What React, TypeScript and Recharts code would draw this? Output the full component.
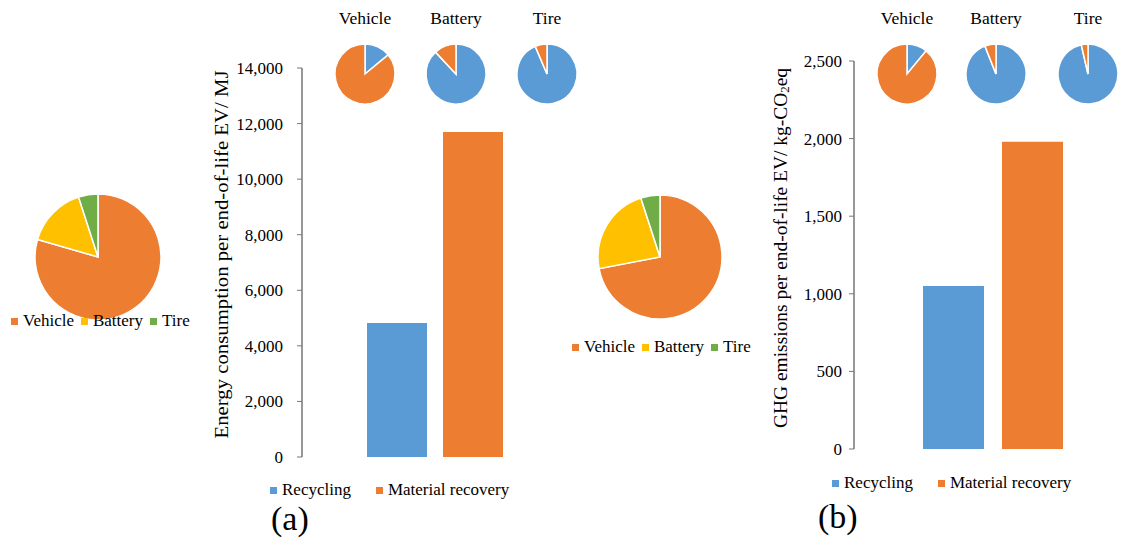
import { Bar, BarChart, Cell, Legend, Pie, PieChart, XAxis, YAxis } from "recharts";

const SERIF = '"Liberation Serif", "Times New Roman", serif';
const INK = "#000000";
const AXIS = "#767676";

const BLUE = "#5B9BD5";
const ORANGE = "#ED7D31";
const YELLOW = "#FFC000";
const GREEN = "#70AD47";

// categories
const parts = ["Vehicle", "Battery", "Tire"];
const partColors = [ORANGE, YELLOW, GREEN];
const methods = ["Recycling", "Material recovery"];
const methodColors = [BLUE, ORANGE];

// (a) energy consumption, MJ per end-of-life EV
const energyTotals = [4820, 11700];
const energyPartShare = [79.5, 15.5, 5];
const energyRecycling = [14, 88, 93.6];
const energyRecovery = [86, 12, 6.4];
const energyTicks = [0, 2000, 4000, 6000, 8000, 10000, 12000, 14000];

// (b) GHG emissions, kg-CO2eq per end-of-life EV
const ghgTotals = [1050, 1980];
const ghgPartShare = [72, 23, 5];
const ghgRecycling = [11, 94, 96.4];
const ghgRecovery = [89, 6, 3.6];
const ghgTicks = [0, 500, 1000, 1500, 2000, 2500];

const fmt = (v: number) => v.toLocaleString("en-US");

function Box({ x, y, w, h, children }: any) {
  return (
    <div style={{ position: "absolute", left: x, top: y, width: w, height: h }}>
      {children}
    </div>
  );
}

// legend that keeps the order of the given names
function SwatchLegend({ payload, order, gap, textGap }: any) {
  const items = [...(payload || [])].sort(
    (a: any, b: any) => order.indexOf(a.value) - order.indexOf(b.value)
  );
  return (
    <div
      style={{
        display: "flex",
        alignItems: "center",
        height: 20,
        fontFamily: SERIF,
        fontSize: 17,
        color: INK,
        whiteSpace: "nowrap",
      }}
    >
      {items.map((p: any, i: number) => (
        <span
          key={i}
          style={{ display: "inline-flex", alignItems: "center", marginRight: gap }}
        >
          <span
            style={{
              display: "inline-block",
              width: 7,
              height: 7,
              background: p.color,
              marginRight: textGap,
            }}
          />
          {p.value}
        </span>
      ))}
    </div>
  );
}

function BigPie({ x, y, w, h, cx, cy, r, shares, legendLeft, legendTop }: any) {
  const data = parts.map((name, i) => ({ name, value: shares[i], fill: partColors[i] }));
  return (
    <Box x={x} y={y} w={w} h={h}>
      <PieChart width={w} height={h} margin={{ top: 0, right: 0, bottom: 0, left: 0 }}>
        <Pie
          data={data}
          dataKey="value"
          nameKey="name"
          cx={cx}
          cy={cy}
          outerRadius={r}
          startAngle={90}
          endAngle={-270}
          stroke="#ffffff"
          strokeWidth={1.5}
          isAnimationActive={false}
        >
          {data.map((d, i) => (
            <Cell key={i} fill={d.fill} />
          ))}
        </Pie>
        <Legend
          layout="horizontal"
          verticalAlign="middle"
          align="center"
          wrapperStyle={{ left: legendLeft, top: legendTop, width: "auto" }}
          content={(p: any) => (
            <SwatchLegend payload={p.payload} order={parts} gap={7} textGap={5} />
          )}
        />
      </PieChart>
    </Box>
  );
}

function SmallPie({ cx, cy, recycling, recovery, title }: any) {
  const data = [
    { name: methods[0], value: recycling },
    { name: methods[1], value: recovery },
  ];
  const size = 70;
  return (
    <>
      <div
        style={{
          position: "absolute",
          left: cx - 50,
          top: 6,
          width: 100,
          height: 24,
          lineHeight: "24px",
          textAlign: "center",
          fontFamily: SERIF,
          fontSize: 17.5,
          color: INK,
        }}
      >
        {title}
      </div>
      <Box x={cx - size / 2} y={cy - size / 2} w={size} h={size}>
        <PieChart width={size} height={size} margin={{ top: 0, right: 0, bottom: 0, left: 0 }}>
          <Pie
            data={data}
            dataKey="value"
            cx={size / 2}
            cy={size / 2}
            outerRadius={30}
            startAngle={90}
            endAngle={-270}
            stroke="#ffffff"
            strokeWidth={1.5}
            isAnimationActive={false}
          >
            {data.map((_, i) => (
              <Cell key={i} fill={methodColors[i]} />
            ))}
          </Pie>
        </PieChart>
      </Box>
    </>
  );
}

function AxisTitle({ viewBox, dx, dy, length, children }: any) {
  const x = viewBox.x + dx;
  const y = viewBox.y + viewBox.height / 2 + dy;
  return (
    <text
      x={x}
      y={y}
      transform={`rotate(-90 ${x} ${y})`}
      textAnchor="middle"
      dominantBaseline="central"
      fontFamily={SERIF}
      fontSize={19.5}
      fill={INK}
      textLength={length}
      lengthAdjust="spacingAndGlyphs"
    >
      {children}
    </text>
  );
}

function Bars({ x, y, w, h, margin, totals, ticks, barSize, barGap, tickMargin, title, legendLeft, legendTop }: any) {
  const data = [{ name: "EV", recycling: totals[0], recovery: totals[1] }];
  return (
    <Box x={x} y={y} w={w} h={h}>
      <BarChart width={w} height={h} data={data} margin={margin} barSize={barSize} barGap={barGap}>
        <XAxis dataKey="name" height={0} tick={false} tickLine={false} axisLine={{ stroke: AXIS, strokeWidth: 1.5 }} />
        <YAxis
          width={80}
          domain={[0, ticks[ticks.length - 1]]}
          ticks={ticks}
          interval={0}
          tickFormatter={fmt}
          tickSize={5}
          tickMargin={tickMargin}
          tick={{ fill: INK, fontSize: 17, fontFamily: SERIF }}
          axisLine={{ stroke: AXIS, strokeWidth: 1.5 }}
          tickLine={{ stroke: AXIS }}
          label={title}
        />
        <Bar dataKey="recycling" name={methods[0]} fill={methodColors[0]} isAnimationActive={false} />
        <Bar dataKey="recovery" name={methods[1]} fill={methodColors[1]} isAnimationActive={false} />
        <Legend
          layout="horizontal"
          verticalAlign="middle"
          align="center"
          wrapperStyle={{ left: legendLeft, top: legendTop, width: "auto" }}
          content={(p: any) => (
            <SwatchLegend payload={p.payload} order={methods} gap={25} textGap={5} />
          )}
        />
      </BarChart>
    </Box>
  );
}

export default function App() {
  return (
    <div
      style={{
        position: "absolute",
        left: 0,
        top: 0,
        width: 1124,
        height: 539,
        overflow: "hidden",
        background: "#ffffff",
      }}
    >
      {/* (a) */}
      <BigPie x={0} y={185} w={200} h={160} cx={98} cy={72} r={63} shares={energyPartShare} legendLeft={11} legendTop={126} />
      <Bars
        x={200}
        y={40}
        w={380}
        h={480}
        margin={{ top: 28, right: 12, bottom: 63, left: 22 }}
        totals={energyTotals}
        ticks={energyTicks}
        barSize={60}
        barGap={16}
        tickMargin={14}
        legendLeft={70}
        legendTop={440}
        title={(p: any) => (
          <AxisTitle viewBox={p.viewBox} dx={-1} dy={-8} length={368}>
            Energy consumption per end-of-life EV/ MJ
          </AxisTitle>
        )}
      />
      {parts.map((t, i) => (
        <SmallPie key={t} cx={[365, 456, 547][i]} cy={74} title={t} recycling={energyRecycling[i]} recovery={energyRecovery[i]} />
      ))}
      <div style={{ position: "absolute", left: 271, top: 499, fontFamily: SERIF, fontSize: 34, color: INK, lineHeight: "40px" }}>(a)</div>

      {/* (b) */}
      <BigPie x={560} y={185} w={200} h={180} cx={100} cy={72} r={62} shares={ghgPartShare} legendLeft={12} legendTop={152} />
      <Bars
        x={760}
        y={30}
        w={380}
        h={480}
        margin={{ top: 31, right: 9, bottom: 61, left: 14 }}
        totals={ghgTotals}
        ticks={ghgTicks}
        barSize={61}
        barGap={18}
        tickMargin={7}
        legendLeft={72}
        legendTop={443}
        title={(p: any) => (
          <AxisTitle viewBox={p.viewBox} dx={6} dy={-7} length={360}>
            GHG emissions per end-of-life EV/ kg-CO
            <tspan dy={4} fontSize={13}>2</tspan>
            <tspan dy={-4}>eq</tspan>
          </AxisTitle>
        )}
      />
      {parts.map((t, i) => (
        <SmallPie key={t} cx={[907, 996, 1088][i]} cy={74} title={t} recycling={ghgRecycling[i]} recovery={ghgRecovery[i]} />
      ))}
      <div style={{ position: "absolute", left: 818, top: 497, fontFamily: SERIF, fontSize: 34, color: INK, lineHeight: "40px" }}>(b)</div>
    </div>
  );
}
